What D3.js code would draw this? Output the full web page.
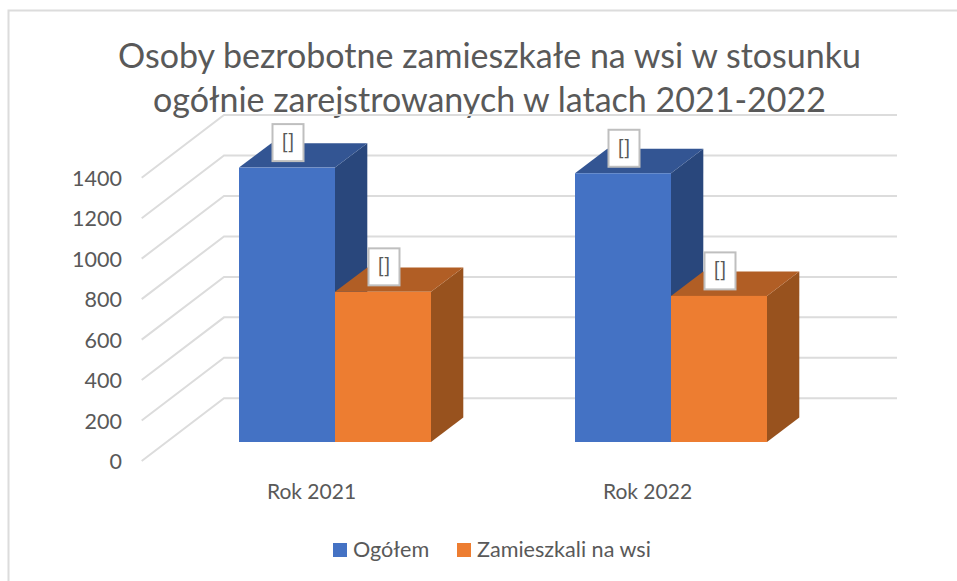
<!DOCTYPE html>
<html>
<head>
<meta charset="utf-8">
<script src="https://cdn.jsdelivr.net/npm/d3@7/dist/d3.min.js"></script>
<style>
html,body{margin:0;padding:0;background:#fff}
text{font-family:"Lato",sans-serif;fill:#595959}
</style>
</head>
<body>
<svg id="c" width="957" height="581"></svg>
<script>
const titleLines = ["Osoby bezrobotne zamieszkałe na wsi w stosunku","ogółnie zarejstrowanych w latach 2021-2022"];
const categories = ["Rok 2021","Rok 2022"];
const seriesNames = ["Ogółem","Zamieszkali na wsi"];
const ogolem = [1356,1328];
const wies = [742,722];
const yTicks = [0,200,400,600,800,1000,1200,1400];
const labelText = "[]";

const frontColors = ["#4472c4","#ed7d31"];
const topColors = ["#335593","#b15e25"];
const sideColors = ["#29477c","#98521e"];

const svg = d3.select("#c");

// frame
svg.append("path").attr("d","M8.5,581V10.5H957").attr("fill","none").attr("stroke","#dcdcdc").attr("stroke-width",2);

// title
svg.append("g").selectAll("text").data(titleLines).join("text")
  .attr("x",489.5).attr("y",(d,i)=>67.5+i*44.5).attr("text-anchor","middle")
  .style("font-size","34px").text(d=>d);

// scales
const y = d3.scaleLinear().domain([0,1400]).range([398.3,115]);
const x0 = d3.scaleBand().domain(categories).range([167,839]).paddingInner(0.4286).paddingOuter(0.2143);
const x1 = d3.scaleBand().domain(seriesNames).range([0,x0.bandwidth()]);

const wall = {x0:224,x1:897,dx:-82.3,dy:62.7};   // back wall & floor depth
const barOff = {dy:43.7,depthX:32.3,depthY:-24.4}; // bar front plane

// grid
const grid = svg.append("g").attr("fill","none").attr("stroke","#dcdcdc").attr("stroke-width",2);
grid.selectAll("path").data(yTicks).join("path")
  .attr("d",d=>`M${wall.x0+wall.dx},${y(d)+wall.dy}L${wall.x0},${y(d)}H${wall.x1}`);

// y axis labels
svg.append("g").selectAll("text").data(yTicks).join("text")
  .attr("x",122).attr("y",d=>y(d)+wall.dy+8).attr("text-anchor","end")
  .style("font-size","21.5px").text(d=>d);

// category labels
svg.append("g").selectAll("text").data(categories).join("text")
  .attr("x",d=>x0(d)+x0.bandwidth()/2-23.5).attr("y",499).attr("text-anchor","middle")
  .style("font-size","21px").text(d=>d);

// bars
const table = [];
categories.forEach((c,i)=>{
  table.push({c,s:seriesNames[0],v:ogolem[i],k:0});
  table.push({c,s:seriesNames[1],v:wies[i],k:1});
});
const bars = svg.append("g").selectAll("g").data(table).join("g");
const bx = d=>x0(d.c)+x1(d.s), bw = x1.bandwidth();
const fy = d=>y(d.v)+barOff.dy, fb = y(0)+barOff.dy;
const dX = barOff.depthX, dY = barOff.depthY;
bars.append("path").attr("fill",d=>sideColors[d.k])
  .attr("d",d=>`M${bx(d)+bw},${fy(d)}l${dX},${dY}V${fb+dY}l${-dX},${-dY}Z`);
bars.append("path").attr("fill",d=>topColors[d.k])
  .attr("d",d=>`M${bx(d)},${fy(d)}l${dX},${dY}h${bw}l${-dX},${-dY}Z`);
bars.append("rect").attr("fill",d=>frontColors[d.k])
  .attr("x",bx).attr("y",fy).attr("width",bw).attr("height",d=>fb-fy(d));

// data labels
const labels = svg.append("g").selectAll("g").data(table).join("g")
  .attr("transform",d=>`translate(${bx(d)+bw/2+1},${fy(d)-6.5})`);
labels.append("rect").attr("x",-15.5).attr("y",-37).attr("width",31).attr("height",37)
  .attr("fill","#fff").attr("stroke","#bfbfbf").attr("stroke-width",2);
labels.append("text").attr("text-anchor","middle").attr("y",-12).style("font-size","21px").text(labelText);

// legend
const legendX = [333,457], legendTextX = [353,477];
const legend = svg.append("g").selectAll("g").data(seriesNames).join("g");
legend.append("rect").attr("x",(d,i)=>legendX[i]).attr("y",543).attr("width",14).attr("height",14)
  .attr("fill",(d,i)=>frontColors[i]);
legend.append("text").attr("x",(d,i)=>legendTextX[i]).attr("y",557).style("font-size","21.6px").text(d=>d);
</script>
</body>
</html>
